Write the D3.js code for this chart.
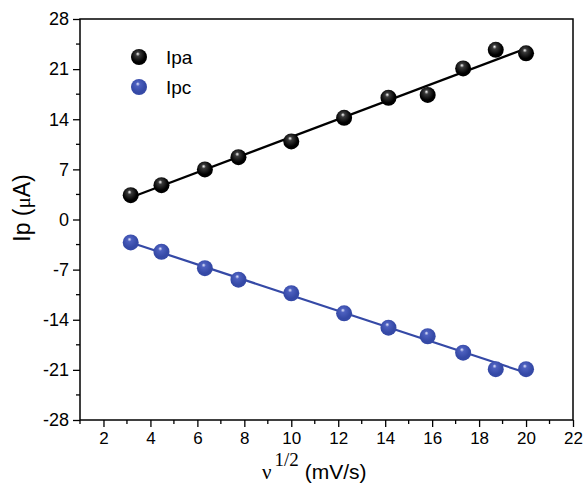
<!DOCTYPE html>
<html>
<head>
<meta charset="utf-8">
<script src="https://cdn.jsdelivr.net/npm/d3@7"></script>
<style>
  body { margin: 0; background: #fff; }
  text { font-family: Arial, "Liberation Sans", sans-serif; }
</style>
</head>
<body>
<svg id="chart"></svg>
<script>
// square root of scan rate (mV/s)^1/2
const sqrtRate = [3.16, 4.47, 6.32, 7.75, 10, 12.25, 14.14, 15.81, 17.32, 18.71, 20];
// anodic and cathodic peak currents (uA)
const ipa = [3.4, 4.8, 7.0, 8.7, 10.9, 14.2, 17.0, 17.4, 21.1, 23.7, 23.2];
const ipc = [-3.2, -4.5, -6.8, -8.4, -10.3, -13.1, -15.1, -16.3, -18.6, -20.9, -20.9];
const xTicks = [2, 4, 6, 8, 10, 12, 14, 16, 18, 20, 22];
const yTicks = [-28, -21, -14, -7, 0, 7, 14, 21, 28];

const series = [
  { name: 'Ipa', values: ipa, color: '#000000', light: '#ffffff', mid: '#3a3a3a' },
  { name: 'Ipc', values: ipc, color: '#3549a6', light: '#e8ebff', mid: '#4d60bf' }
];

const width = 586, height = 487;
const margin = { top: 19, right: 13, bottom: 67, left: 80 };
const w = width - margin.left - margin.right;
const h = height - margin.top - margin.bottom;

const svg = d3.select('#chart').attr('width', width).attr('height', height);

// ball gradients
const defs = svg.append('defs');
series.forEach((s, i) => {
  const g = defs.append('radialGradient')
    .attr('id', 'ball' + i)
    .attr('cx', '45%').attr('cy', '40%').attr('r', '60%')
    .attr('fx', '42%').attr('fy', '30%');
  g.append('stop').attr('offset', '0%').attr('stop-color', s.light);
  g.append('stop').attr('offset', '22%').attr('stop-color', s.mid);
  g.append('stop').attr('offset', '75%').attr('stop-color', s.color);
  g.append('stop').attr('offset', '100%').attr('stop-color', s.color);
});

const chart = svg.append('g').attr('transform', `translate(${margin.left},${margin.top})`);

const x = d3.scaleLinear().domain([1, 22]).range([0, w]);
const y = d3.scaleLinear().domain([-28, 28]).range([h, 0]);

// frame
chart.append('rect')
  .attr('width', w).attr('height', h)
  .attr('fill', 'none').attr('stroke', '#000').attr('stroke-width', 1.5);

// minor ticks
const xMinor = d3.range(1, 23, 2);
chart.append('g').selectAll('line').data(xMinor).join('line')
  .attr('x1', d => x(d)).attr('x2', d => x(d))
  .attr('y1', h).attr('y2', h + 4)
  .attr('stroke', '#000').attr('stroke-width', 1.3);
const yMinor = d3.range(-24.5, 28, 7);
chart.append('g').selectAll('line').data(yMinor).join('line')
  .attr('y1', d => y(d)).attr('y2', d => y(d))
  .attr('x1', 0).attr('x2', -4)
  .attr('stroke', '#000').attr('stroke-width', 1.3);

// axes (plain hyphen for negatives, like the original)
const fmt = d => String(d);
const xAxisG = chart.append('g')
  .attr('transform', `translate(0,${h})`)
  .call(d3.axisBottom(x).tickValues(xTicks).tickSize(7).tickPadding(5).tickFormat(fmt))
  .call(g => g.select('.domain').remove());
const yAxisG = chart.append('g')
  .call(d3.axisLeft(y).tickValues(yTicks).tickSize(7).tickPadding(4).tickFormat(fmt))
  .call(g => g.select('.domain').remove());
[xAxisG, yAxisG].forEach(g => {
  g.selectAll('.tick line').attr('stroke-width', 1.3);
  g.selectAll('.tick text').attr('fill', '#000')
    .attr('font-family', 'Arial, "Liberation Sans", sans-serif');
});
xAxisG.selectAll('.tick text').attr('font-size', 17);
yAxisG.selectAll('.tick text').attr('font-size', 18);

// least squares fit lines
function fit(xs, ys) {
  const mx = d3.mean(xs), my = d3.mean(ys);
  const sxy = d3.sum(xs, (v, i) => (v - mx) * (ys[i] - my));
  const sxx = d3.sum(xs, v => (v - mx) ** 2);
  const b = sxy / sxx;
  return [b, my - b * mx];
}
const x0 = d3.min(sqrtRate), x1 = d3.max(sqrtRate);
series.forEach(s => {
  const [b, a] = fit(sqrtRate, s.values);
  chart.append('line')
    .attr('x1', x(x0)).attr('y1', y(a + b * x0))
    .attr('x2', x(x1)).attr('y2', y(a + b * x1))
    .attr('stroke', s.color).attr('stroke-width', 2.2);
});

// points
series.forEach((s, i) => {
  chart.append('g').selectAll('circle')
    .data(s.values.map((v, j) => [sqrtRate[j], v]))
    .join('circle')
    .attr('cx', d => x(d[0]))
    .attr('cy', d => y(d[1]))
    .attr('r', 8)
    .attr('fill', `url(#ball${i})`);
});

// legend
const legend = svg.append('g').attr('transform', 'translate(139,57)');
series.forEach((s, i) => {
  legend.append('circle').attr('cx', 0).attr('cy', i * 30).attr('r', 8)
    .attr('fill', `url(#ball${i})`);
  legend.append('text').attr('x', 27).attr('y', i * 30 + 7)
    .attr('font-size', 19).text(s.name);
});

// axis titles
svg.append('text')
  .attr('transform', 'translate(30,208) rotate(-90)')
  .attr('text-anchor', 'middle')
  .attr('font-size', 23)
  .call(t => {
    t.append('tspan').text('Ip (');
    t.append('tspan').attr('font-family', '"Times New Roman", "Liberation Serif", serif')
      .attr('font-size', 21).text('μ');
    t.append('tspan').text('A)');
  });

const xt = svg.append('text')
  .attr('x', 262).attr('y', 479)
  .attr('font-size', 21);
xt.append('tspan').attr('font-family', '"Times New Roman", "Liberation Serif", serif')
  .attr('font-size', 21).text('ν');
xt.append('tspan').attr('font-family', '"Times New Roman", "Liberation Serif", serif')
  .attr('font-size', 19).attr('dx', 3).attr('dy', -13).text('1/2');
xt.append('tspan').attr('dy', 13).attr('dx', 6).text('(mV/s)');
</script>
</body>
</html>
